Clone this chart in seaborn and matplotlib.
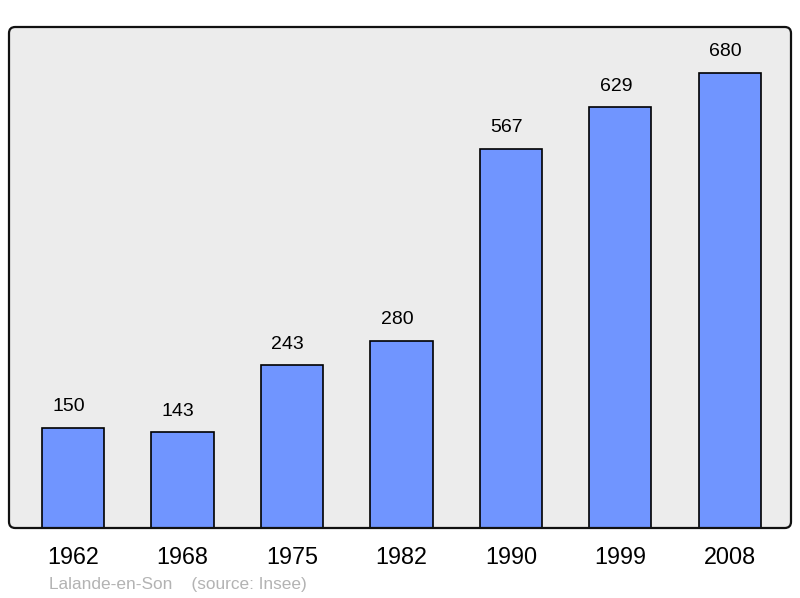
import matplotlib
matplotlib.use("Agg")
import matplotlib.pyplot as plt
import seaborn as sns
import pandas as pd
from matplotlib.patches import FancyBboxPatch

years = ["1962", "1968", "1975", "1982", "1990", "1999", "2008"]
population = [150, 143, 243, 280, 567, 629, 680]
caption = "Lalande-en-Son    (source: Insee)"

sns.set_theme(style="white")
plt.rcParams['font.family'] = ['Liberation Sans', 'DejaVu Sans']

df = pd.DataFrame({"year": years, "pop": population})

fig = plt.figure(figsize=(8, 5.98), dpi=100)
ax = fig.add_axes([9/800, 1 - 528/598, 782/800, 501/598])
ax.set_facecolor("none")

bg = FancyBboxPatch((0, 0), 1, 1, boxstyle="round,pad=0,rounding_size=0.008",
                    transform=ax.transAxes, facecolor="#ececec", edgecolor="none",
                    zorder=0, clip_on=False, mutation_aspect=782/501)
ax.add_patch(bg)

sns.barplot(data=df, x="year", y="pop", color="#7095ff", saturation=1,
            width=0.57, edgecolor="black", linewidth=1.2, ax=ax, zorder=2)

for i, v in enumerate(population):
    ax.text(i - 0.04, v + 19, str(v), ha="center", va="bottom", fontsize=14, color="black")

frame = FancyBboxPatch((0, 0), 1, 1, boxstyle="round,pad=0,rounding_size=0.008",
                       transform=ax.transAxes, facecolor="none", edgecolor="#111111",
                       linewidth=1.6, zorder=5, clip_on=False, mutation_aspect=782/501)
ax.add_patch(frame)

ax.set_xlim(-0.585, 6.56)
ax.set_ylim(0, 749)
for s in ax.spines.values():
    s.set_visible(False)
ax.set_yticks([])
ax.set_xlabel("")
ax.set_ylabel("")
ax.tick_params(axis="x", length=0, pad=13, labelsize=16.8, colors="black")

fig.text(49/800, 1 - 584/598, caption, ha="left", va="center", fontsize=12.4, color="#b3b3b3")

fig.savefig("out.png", dpi=100)
